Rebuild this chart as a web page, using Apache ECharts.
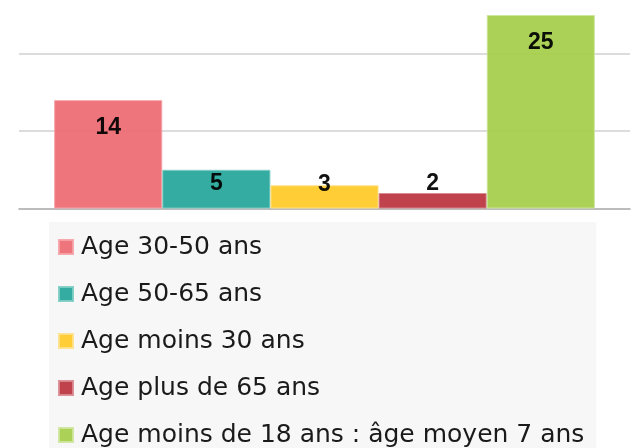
<!DOCTYPE html>
<html>
<head>
<meta charset="utf-8">
<script src="https://cdn.jsdelivr.net/npm/echarts@6/dist/echarts.min.js"></script>
<style>
html,body{margin:0;padding:0;background:#fff;}
#chart{width:638px;height:448px;}
</style>
</head>
<body>
<div id="chart"></div>
<script>
// ---- data ----
var seriesNames = [
  'Age 30-50 ans',
  'Age 50-65 ans',
  'Age moins 30 ans',
  'Age plus de 65 ans',
  'Age moins de 18 ans : âge moyen 7 ans'
];
var seriesValues = [14, 5, 3, 2, 25];
var categories = [''];

// ---- styling (not data) ----
var fillColors = ['#ee6b73', '#26a69a', '#ffca28', '#bb3440', '#a5cd4a'];
var borderColors = ['#f5a3a8', '#7fcdc5', '#ffe08a', '#d98a90', '#cde59c'];
var labelCenterFromTop = [28, 14, -1, -9, 28];

var chart = echarts.init(document.getElementById('chart'), null, {renderer: 'canvas'});

var series = seriesNames.map(function (name, i) {
  return {
    name: name,
    type: 'bar',
    data: [seriesValues[i]],
    barGap: '0%',
    barCategoryGap: '11.5%',
    itemStyle: {
      color: fillColors[i],
      opacity: 0.93,
      borderColor: borderColors[i],
      borderWidth: 1
    },
    label: {
      show: true,
      position: ['50%', labelCenterFromTop[i]],
      align: 'center',
      verticalAlign: 'middle',
      color: '#000',
      fontFamily: 'Liberation Sans, Arial, sans-serif',
      fontWeight: 'bold',
      fontSize: 23
    },
    emphasis: {disabled: true}
  };
});

chart.setOption({
  animation: false,
  backgroundColor: '#ffffff',
  grid: {left: 19, right: 8, top: 15, bottom: 239.5, containLabel: false},
  xAxis: {
    type: 'category',
    data: categories,
    axisLine: {show: true, lineStyle: {color: '#a6a6a6', width: 1.5}},
    axisTick: {show: false},
    axisLabel: {show: false},
    splitLine: {show: false}
  },
  yAxis: {
    type: 'value',
    min: 0,
    max: 25,
    interval: 10,
    axisLine: {show: false},
    axisTick: {show: false},
    axisLabel: {show: false},
    splitLine: {show: true, showMinLine: false, showMaxLine: false, lineStyle: {color: '#d0d0d0', width: 1.5}}
  },
  legend: {
    show: true,
    orient: 'vertical',
    left: 49,
    top: 222,
    height: 400,
    backgroundColor: '#f7f7f7',
    padding: [10, 12, 8, 9],
    itemWidth: 14,
    itemHeight: 14,
    itemGap: 17,
    icon: 'rect',
    selectedMode: false,
    textStyle: {
      color: '#1a1a1a',
      fontFamily: 'DejaVu Sans, sans-serif',
      fontSize: 25,
      lineHeight: 30,
      padding: [0, 0, 0, 3]
    },
    data: seriesNames
  },
  series: series
});
</script>
</body>
</html>
